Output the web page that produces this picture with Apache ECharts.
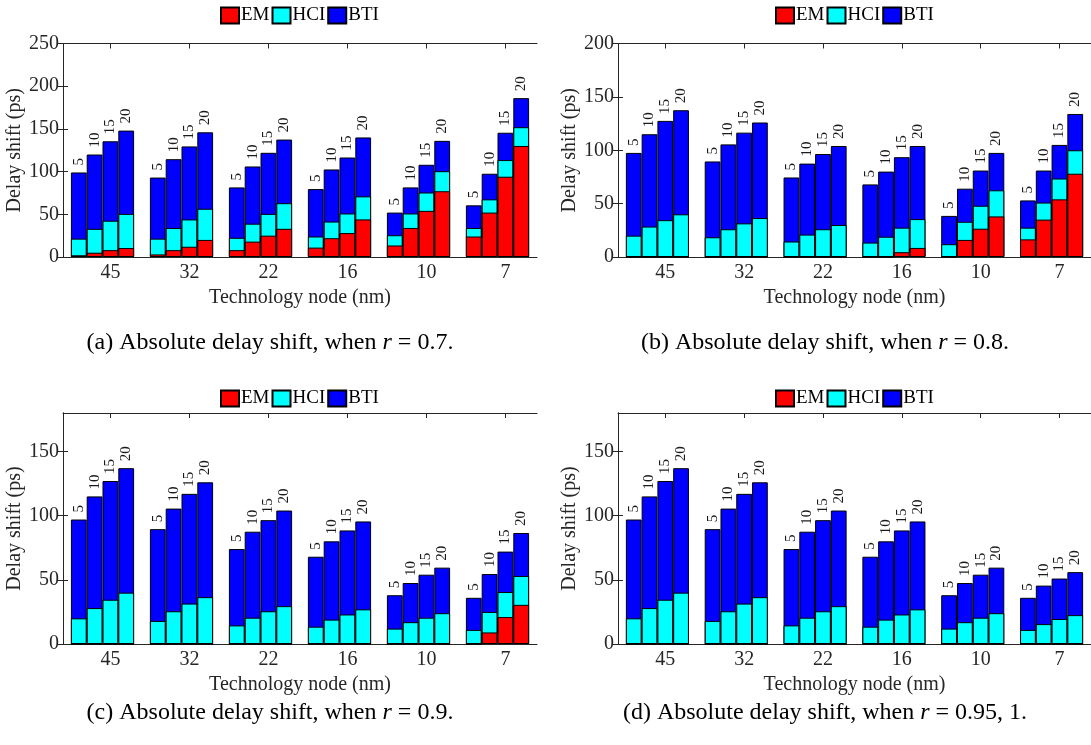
<!DOCTYPE html>
<html><head><meta charset="utf-8">
<script src="https://cdn.jsdelivr.net/npm/echarts@6/dist/echarts.min.js"></script>
<style>html,body{margin:0;padding:0;background:#fff}#c{width:1091px;height:745px}</style>
</head><body><div id="c"></div>
<script>
// ---------- data ----------
const nodes = ['45', '32', '22', '16', '10', '7'];
const years = [5, 10, 15, 20];
const seriesNames = ['EM', 'HCI', 'BTI'];
const yTickValues = [0, 50, 100, 150, 200, 250];

// Panel (a) r = 0.7  (contribution of each mechanism, ps)
const emA  = [2, 5, 8, 10.5,  3, 8, 12, 20,  8, 18, 25, 33,  11, 22, 28, 44,  13.5, 34, 54, 77,  24, 52, 94, 130];
const hciA = [19.5, 28, 34.5, 40,  18.5, 26, 32, 36.5,  14.5, 21, 25.5, 30,  13, 19.5, 23, 27,  12, 17, 21.5, 23.5,  10, 15.5, 19.5, 22];
const btiA = [77.5, 87, 93, 97.5,  71.5, 80.5, 85.5, 89.5,  59, 67, 71.5, 74.5,  55.5, 61, 65.5, 69,  26.5, 30.5, 32.5, 35.5,  26.5, 30, 32, 34];

// Panel (b) r = 0.8
const emB  = [0, 0, 0, 0,  0, 0, 0, 0,  0, 0, 0, 0,  0, 0, 4.5, 8.5,  0, 16, 26.5, 38,  16.5, 35, 54, 78];
const hciB = [20, 28.5, 34.5, 40,  18.5, 26, 31.5, 36.5,  14.5, 21, 26, 30,  13.5, 19, 23, 27,  12, 17, 21.5, 24.5,  11, 16, 19.5, 22];
const btiB = [77.5, 86.5, 93, 97.5,  71, 79.5, 85, 89.5,  60, 66.5, 70.5, 74,  54.5, 61, 66, 68.5,  26.5, 31, 33, 35,  25.5, 30, 31.5, 34];

// Panel (c) r = 0.9
const emC  = [0, 0, 0, 0,  0, 0, 0, 0,  0, 0, 0, 0,  0, 0, 0, 0,  0, 0, 0, 0,  0, 9, 21, 30.5];
const hciC = [20, 28, 34.5, 40,  18, 25.5, 31.5, 36.5,  14.5, 20.5, 25.5, 29.5,  13.5, 19, 23, 27,  12, 17, 20.5, 24,  11, 16, 19.5, 22.5];
const btiC = [77, 87, 92.5, 97,  71.5, 80, 85.5, 89.5,  59.5, 67, 71, 74.5,  54.5, 61, 65.5, 68.5,  26, 30.5, 33.5, 35.5,  25, 29.5, 31.5, 33.5];

// Panel (d) r = 0.95, 1
const emD  = [0, 0, 0, 0,  0, 0, 0, 0,  0, 0, 0, 0,  0, 0, 0, 0,  0, 0, 0, 0,  0, 0, 0, 0];
const hciD = [20, 28, 34.5, 40,  18, 25.5, 31.5, 36.5,  14.5, 20.5, 25.5, 29.5,  13.5, 19, 23, 27,  12, 17, 20.5, 24,  11, 15.5, 19.5, 22.5];
const btiD = [77, 87, 92.5, 97,  71.5, 80, 85.5, 89.5,  59.5, 67, 71, 74.5,  54.5, 61, 65.5, 68.5,  26, 30.5, 33.5, 35.5,  25, 30, 31.5, 33.5];

const yMax = [250, 200, 180, 180];
const captionLetters = ['(a)', '(b)', '(c)', '(d)'];
const captionValues = ['0.7.', '0.8.', '0.9.', '0.95, 1.'];
const xTitle = 'Technology node (nm)';
const yTitle = 'Delay shift (ps)';

// ---------- layout ----------
const FONT = 'Liberation Serif';
const AX = '#262626';
const panels = [
  {em: emA, hci: hciA, bti: btiA, left: 63,  top: 43.5, height: 213.5, legTop: 6,   capTop: 331, capX: 270},
  {em: emB, hci: hciB, bti: btiB, left: 618, top: 43.5, height: 213.5, legTop: 6,   capTop: 331, capX: 825},
  {em: emC, hci: hciC, bti: btiC, left: 63,  top: 413,  height: 231,   legTop: 389, capTop: 701, capX: 270},
  {em: emD, hci: hciD, bti: btiD, left: 618, top: 413,  height: 231,   legTop: 389, capTop: 701, capX: 825}
];
const colors = ['#ff0000', '#00ffff', '#0000ff'];
const SLOTS = 30;              // 6 groups x (4 bars + 1 gap)
const tickPos = nodes.map((n, g) => 3 + 5 * g);
const barPos = i => 1 + 5 * Math.floor(i / 4) + (i % 4);

const option = {
  animation: false,
  backgroundColor: '#fff',
  grid: [], xAxis: [], yAxis: [], series: [], legend: [], title: []
};

panels.forEach((p, pi) => {
  option.grid.push({left: p.left, top: p.top, width: 474, height: p.height, containLabel: false});
  const xBase = {
    type: 'value', gridIndex: pi, min: 0, max: SLOTS,
    splitLine: {show: false},
    axisLine: {show: true, onZero: false, lineStyle: {color: AX, width: 1}},
    axisTick: {show: true, inside: true, length: 5, customValues: tickPos, lineStyle: {color: AX}},
  };
  option.xAxis.push(Object.assign({}, xBase, {
    position: 'bottom',
    axisLabel: {show: true, customValues: tickPos, margin: 6,
      formatter: v => nodes[Math.round((v - 3) / 5)] || '',
      fontSize: 20, fontFamily: FONT, color: AX},
    name: xTitle, nameLocation: 'middle', nameGap: 31,
    nameTextStyle: {fontSize: 20, fontFamily: FONT, color: AX}
  }));
  option.xAxis.push(Object.assign({}, xBase, {position: 'top', axisLabel: {show: false}}));
  const yT = yTickValues.filter(v => v <= yMax[pi]);
  const yBase = {
    type: 'value', gridIndex: pi, min: 0, max: yMax[pi], interval: 50,
    splitLine: {show: false},
    axisLine: {show: true, lineStyle: {color: AX, width: 1}},
    axisTick: {show: true, inside: true, length: 5, customValues: yT, lineStyle: {color: AX}}
  };
  option.yAxis.push(Object.assign({}, yBase, {
    position: 'left',
    axisLabel: {show: true, customValues: yT, margin: 4, fontSize: 20, fontFamily: FONT, color: AX},
    name: yTitle, nameLocation: 'middle', nameGap: 35, nameRotate: 90,
    nameTextStyle: {fontSize: 20, fontFamily: FONT, color: AX}
  }));
  option.yAxis.push(Object.assign({}, yBase, {position: 'right', axisLabel: {show: false}}));

  // cumulative tops (stack EM -> HCI -> BTI), drawn as overlapping bars, tallest first
  const cumEM = p.em.slice();
  const cumHCI = p.hci.map((v, i) => v + p.em[i]);
  const cumBTI = p.bti.map((v, i) => v + cumHCI[i]);
  const layers = [[2, cumBTI], [1, cumHCI], [0, cumEM]];
  layers.forEach(([si, arr]) => {
    const s = {
      type: 'bar', name: seriesNames[si],
      xAxisIndex: pi * 2, yAxisIndex: pi * 2,
      barWidth: '100%', barGap: '-100%',
      itemStyle: {color: colors[si], borderColor: '#000', borderWidth: 1},
      data: arr.map((v, i) => [barPos(i), v])
    };
    if (si === 2) {
      s.label = {show: true, position: 'top', rotate: 90, align: 'left', verticalAlign: 'middle',
        distance: 7, fontSize: 15, fontFamily: FONT, color: '#1a1a1a',
        formatter: q => String(years[q.dataIndex % 4])};
    }
    option.series.push(s);
  });

  option.legend.push({
    data: seriesNames, left: p.left + 157, top: p.legTop, icon: 'rect',
    itemWidth: 18, itemHeight: 16, itemGap: 2, padding: 0,
    textStyle: {fontSize: 19, fontFamily: FONT, color: '#000', padding: [0, 0, 0, -3]},
    selectedMode: false
  });

  option.title.push({
    text: captionLetters[pi] + ' Absolute delay shift, when {i|r} = ' + captionValues[pi],
    left: p.capX, top: p.capTop, textAlign: 'center', padding: 0,
    textStyle: {fontSize: 24, fontFamily: FONT, fontWeight: 'normal', color: '#000',
      rich: {i: {fontStyle: 'italic', fontSize: 24, fontFamily: FONT, color: '#000'}}}
  });
});

const chart = echarts.init(document.getElementById('c'), null, {renderer: 'canvas'});
chart.setOption(option);
</script></body></html>
